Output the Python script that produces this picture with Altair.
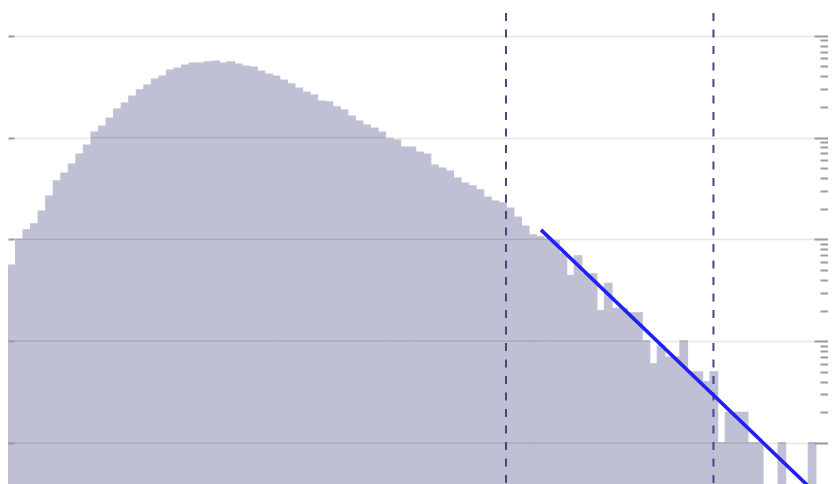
import altair as alt
import pandas as pd

# histogram bins (index of bin) and counts
bin_index = list(range(107))
counts = [56, 100, 124, 142, 190, 267, 375, 449, 550, 690,
          846, 1135, 1300, 1559, 1910, 2188, 2564, 2937, 3288, 3765,
          4030, 4616, 4830, 5167, 5408, 5408, 5534, 5652, 5408, 5534,
          5284, 5047, 4940, 4510, 4217, 4030, 3680, 3364, 3070, 2806,
          2620, 2290, 2240, 2000, 1868, 1631, 1456, 1330, 1242, 1135,
          991, 947, 809, 809, 722, 690, 538, 503, 470, 401,
          358, 335, 306, 261, 238, 228, 203, 166, 135, 111,
          106, 101, 98, 73, 44, 69, 46, 46, 20, 37,
          21, 21, 19, 19, 10, 6, 9, 7, 7, 10,
          5, 5, 4, 5, 1, 2, 2, 2, 1, 1,
          0, 0, 1, 0, 0, 0, 1]

# vertical dashed markers (in bin units)
marker_x = [65.96, 93.44]

# power-law fit line endpoints
fit_x = [70.6, 106.5]
fit_y = [124.0, 0.348]

major_ticks = [1, 10, 100, 1000, 10000]
minor_ticks = [m * 10 ** k for k in range(0, 4) for m in range(2, 10)]

x_domain = [0, 108.61]
y_domain = [0.3957, 18756]

BAR = "#bfc0d4"
TICK = "#9c9c9c"

hist = pd.DataFrame({"start": bin_index, "count": counts})
hist["end"] = hist["start"] + 1
seg = pd.DataFrame(
    [{"start": b, "end": b + 1, "level": lv}
     for b, c in zip(bin_index, counts) for lv in major_ticks if c >= lv]
)
markers = pd.DataFrame({"pos": marker_x})
fit = pd.DataFrame({"x": fit_x, "y": fit_y})

xs = alt.Scale(domain=x_domain, nice=False, zero=False)
ys = alt.Scale(type="log", domain=y_domain, nice=False)


def tick_axis(orient, offset, size, values, z=1):
    return alt.Axis(orient=orient, offset=offset, tickSize=size, values=values,
                    labels=False, domain=False, grid=False, ticks=True,
                    tickColor=TICK, tickWidth=2, zindex=z, title="")


bars = alt.Chart(hist).transform_filter("datum.count > 0").mark_rect(
    color=BAR, stroke=BAR, strokeWidth=1.2
).encode(
    x=alt.X("start:Q", scale=xs, axis=None),
    x2="end:Q",
    y=alt.Y("count:Q", scale=ys,
            axis=alt.Axis(orient="left", grid=True, gridColor="#e9e7df", gridWidth=1.5,
                          ticks=False, labels=False, domain=False, values=major_ticks,
                          zindex=0, title="")),
    y2=alt.datum(y_domain[0]),
)

segs = alt.Chart(seg).mark_rule(color="#aaabb7", strokeWidth=1.5).encode(
    x=alt.X("start:Q", scale=xs, axis=None),
    x2="end:Q",
    y=alt.Y("level:Q", scale=ys, axis=tick_axis("left", -6, 6, major_ticks)),
)

vlines = alt.Chart(markers).mark_rule(
    color="#45458a", strokeWidth=2, strokeDash=[8, 8.5], strokeDashOffset=11.5
).encode(x=alt.X("pos:Q", scale=xs, axis=None))

fitline = alt.Chart(fit).mark_line(color="#2020f2", strokeWidth=3.6, clip=True).encode(
    x=alt.X("x:Q", scale=xs, axis=None),
    y=alt.Y("y:Q", scale=ys, axis=tick_axis("right", -14, 14, major_ticks)),
)

minor_layer = alt.Chart(hist).transform_filter("datum.count > 0").mark_point(opacity=0).encode(
    x=alt.X("start:Q", scale=xs, axis=None),
    y=alt.Y("count:Q", scale=ys, axis=tick_axis("right", -8, 8, minor_ticks)),
)

chart = alt.layer(bars, segs, vlines, fitline, minor_layer).resolve_axis(
    y="independent"
).properties(
    width=820, height=476, padding=0,
    autosize=alt.AutoSizeParams(type="none"),
    background="white",
).configure_view(strokeWidth=0)

chart.save("out.html", embed_options={"renderer": "svg", "actions": False})
